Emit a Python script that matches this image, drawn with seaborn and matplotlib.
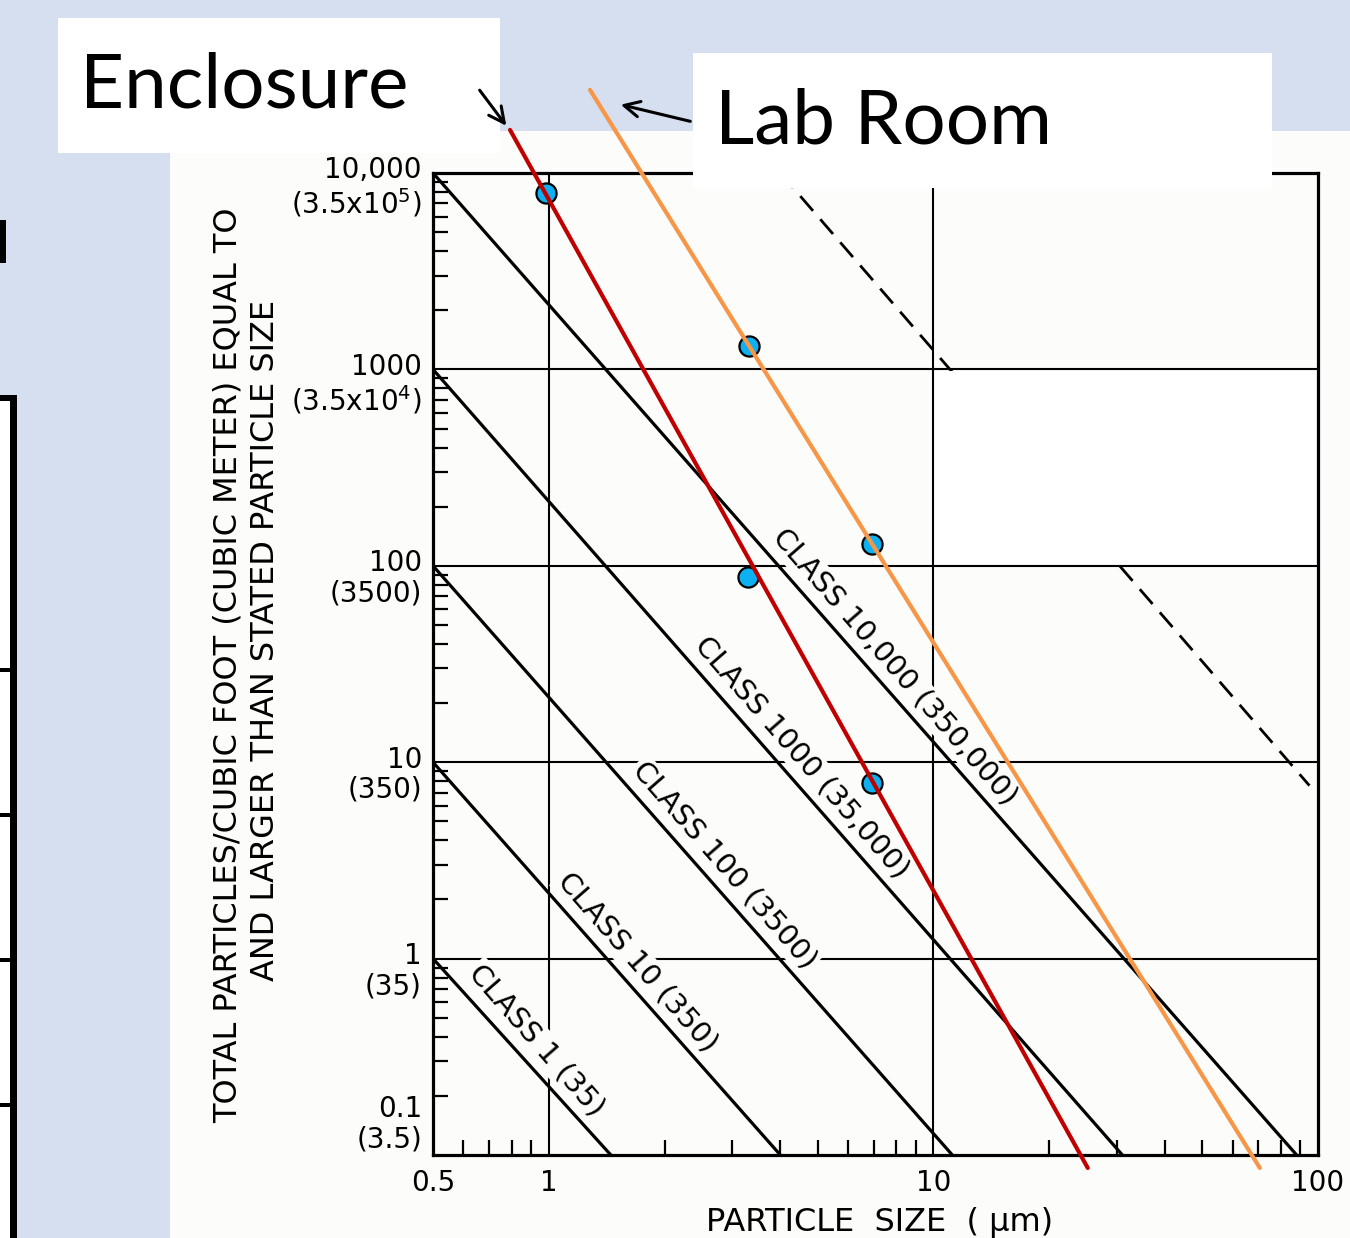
import numpy as np
import pandas as pd
import matplotlib
matplotlib.use("Agg")
import matplotlib.pyplot as plt
from matplotlib.patches import Rectangle, FancyArrowPatch
from matplotlib.ticker import LogLocator, NullFormatter
import seaborn as sns

# ---------------- data ----------------
class_names = ["CLASS 1 (35)", "CLASS 10 (350)", "CLASS 100 (3500)",
               "CLASS 1000 (35,000)", "CLASS 10,000 (350,000)"]
class_start_size = [0.5, 0.5, 0.5, 0.5, 0.5]
class_start_count = [1, 10, 100, 1000, 10000]
class_end_size = [1.45, 4.0, 11.2, 31.0, 88.0]
class_end_count = [0.1, 0.1, 0.1, 0.1, 0.1]

class_label_size = [0.93, 1.70, 2.86, 4.55, 7.95]
class_label_count = [0.385, 0.96, 3.0, 10.6, 30.5]

dashed_size = [4.0, 95.0]
dashed_count = [10000, 7.6]

enclosure_size = [0.793, 25.2]
enclosure_count = [16570, 0.0859]
lab_size = [1.28, 70.6]
lab_count = [26500, 0.0859]

enclosure_pts_size = [0.984, 3.30, 6.92]
enclosure_pts_count = [7910, 87.7, 7.84]
lab_pts_size = [3.32, 6.92]
lab_pts_count = [1316, 129]

x_ticks = [0.5, 1, 10, 100]
x_tick_labels = ["0.5", "1", "10", "100"]
y_ticks = [10000, 1000, 100, 10, 1, 0.1]
y_tick_labels = ["10,000\n(3.5x10$^5$)", "1000\n(3.5x10$^4$)", "100\n(3500)",
                 "10\n(350)", "1\n(35)", "0.1\n(3.5)"]
grid_x = [1, 10]
grid_y = [1000, 100, 10, 1]

ylabel_lines = ["TOTAL PARTICLES/CUBIC FOOT (CUBIC METER) EQUAL TO",
                "AND LARGER THAN STATED PARTICLE SIZE"]
xlabel_text = "PARTICLE  SIZE  ( \u03bcm)"

# ---------------- style ----------------
sns.set_style("white")
plt.rcParams["font.family"] = ["DejaVu Sans"]
plt.rcParams["text.color"] = "black"
plt.rcParams["xtick.color"] = "black"
plt.rcParams["ytick.color"] = "black"
plt.rcParams["axes.labelcolor"] = "black"

BG = "#D5DFF0"
W, H = 1350, 1238
fig = plt.figure(figsize=(W / 100, H / 100), dpi=100)
fig.patch.set_facecolor(BG)


def fx(x):
    return x / W


def fy(y):
    return 1 - y / H


def rect_px(x0, y0, x1, y1, **kw):
    r = Rectangle((fx(x0), fy(y1)), (x1 - x0) / W, (y1 - y0) / H,
                  transform=fig.transFigure, **kw)
    fig.add_artist(r)
    return r


# scanned chart paper
rect_px(170, 131, 1350, 1238, fc="#FCFCFA", ec="none", zorder=-1)

# left slide table fragments
rect_px(0, 397, 10, 1238, fc="white", ec="none", zorder=1)
rect_px(10, 395, 17, 1238, fc="black", ec="none", zorder=2)
rect_px(0, 395, 17, 401, fc="black", ec="none", zorder=2)
for yy in [670, 815, 960, 1105]:
    rect_px(0, yy - 2, 12, yy + 2, fc="black", ec="none", zorder=2)
rect_px(0, 220, 6, 263, fc="black", ec="none", zorder=2)

# ---------------- axes ----------------
ax = fig.add_axes([433 / W, 1 - 1155 / H, 885 / W, 982 / H])
ax.patch.set_alpha(0)
ax.set_xscale("log")
ax.set_yscale("log")
ax.set_xlim(0.5, 100)
ax.set_ylim(0.1, 10000)

for g in grid_x:
    ax.axvline(g, color="black", lw=1.5, zorder=1)
for g in grid_y:
    ax.axhline(g, color="black", lw=1.5, zorder=1)

df_class = pd.DataFrame({
    "size": class_start_size + class_end_size,
    "count": class_start_count + class_end_count,
    "cls": class_names * 2,
})
sns.lineplot(data=df_class, x="size", y="count", hue="cls",
             palette={n: "black" for n in class_names}, legend=False,
             estimator=None, linewidth=2.3, ax=ax, zorder=4)

df_dash = pd.DataFrame({"size": dashed_size, "count": dashed_count})
sns.lineplot(data=df_dash, x="size", y="count", color="black", linewidth=2.0,
             dashes=False, estimator=None, ax=ax, zorder=4)
ax.lines[-1].set_dashes((7, 4))

for n, xs, ys in zip(class_names, class_label_size, class_label_count):
    ax.text(xs, ys, n, rotation=-48.9, rotation_mode="anchor",
            ha="center", va="center", fontsize=21, zorder=3, color="black",
            bbox=dict(fc="#FCFCFA", ec="none", pad=1.5))

df_enc = pd.DataFrame({"size": enclosure_size, "count": enclosure_count})
sns.lineplot(data=df_enc, x="size", y="count", color="#C00000", linewidth=3.0,
             estimator=None, ax=ax, zorder=6, clip_on=False)
df_lab = pd.DataFrame({"size": lab_size, "count": lab_count})
sns.lineplot(data=df_lab, x="size", y="count", color="#F79646", linewidth=3.0,
             estimator=None, ax=ax, zorder=6, clip_on=False)

df_pts = pd.DataFrame({"size": enclosure_pts_size + lab_pts_size,
                       "count": enclosure_pts_count + lab_pts_count})
sns.scatterplot(data=df_pts, x="size", y="count", s=210, color="#0DB0F0",
                edgecolor="black", linewidth=1.6, ax=ax, zorder=5, clip_on=False)

# ticks
ax.set_xticks(x_ticks)
ax.set_xticklabels(x_tick_labels)
ax.xaxis.set_minor_locator(LogLocator(base=10, subs=np.arange(2, 10)))
ax.yaxis.set_minor_locator(LogLocator(base=10, subs=np.arange(2, 10)))
ax.xaxis.set_minor_formatter(NullFormatter())
ax.yaxis.set_minor_formatter(NullFormatter())
ax.set_yticks(y_ticks)
ax.set_yticklabels([])
ax.tick_params(axis="both", which="major", length=0, labelsize=20, pad=10,
               colors="black")
ax.tick_params(axis="both", which="minor", direction="in", length=11,
               width=1.6, color="black", left=True, bottom=True,
               right=False, top=False)
ax.set_xlabel("")
ax.set_ylabel("")

for v, lab in zip(y_ticks[:-1], y_tick_labels[:-1]):
    ax.annotate(lab, xy=(0, v), xycoords=("axes fraction", "data"),
                xytext=(-8, 12), textcoords="offset points",
                ha="right", va="top", fontsize=20, linespacing=1.1,
                color="black")
ax.annotate(y_tick_labels[-1], xy=(0, y_ticks[-1]),
            xycoords=("axes fraction", "data"), xytext=(-8, 1),
            textcoords="offset points", ha="right", va="bottom",
            fontsize=20, linespacing=1.1, color="black")

for s in ax.spines.values():
    s.set_visible(True)
    s.set_color("black")
    s.set_linewidth(2.3)

# axis titles (scanned style)
fig.text(fx(228), fy(665), ylabel_lines[0], rotation=90, ha="center",
         va="center", fontsize=23, color="black")
fig.text(fx(265), fy(640), ylabel_lines[1], rotation=90, ha="center",
         va="center", fontsize=23, color="black")
fig.text(fx(880), fy(1222), xlabel_text, ha="center", va="center",
         fontsize=23, color="black")

# ---------------- slide overlays ----------------
rect_px(58, 18, 500, 153, fc="white", ec="none", zorder=7)
rect_px(693, 53, 1272, 188, fc="white", ec="none", zorder=7)
rect_px(935, 371, 1316, 564, fc="white", ec="none", zorder=7)

fig.text(fx(80), fy(107), "Enclosure", fontsize=55, family="Lato",
         ha="left", va="baseline", zorder=8, color="black")
fig.text(fx(715), fy(143), "Lab Room", fontsize=55, family="Lato",
         ha="left", va="baseline", zorder=8, color="black")

for (x0, y0), (x1, y1) in [((478, 88), (508, 128)), ((693, 122), (618, 104))]:
    arr = FancyArrowPatch((fx(x0), fy(y0)), (fx(x1), fy(y1)),
                          transform=fig.transFigure, arrowstyle="->",
                          mutation_scale=28, lw=2.2, color="black", zorder=8)
    fig.add_artist(arr)

fig.savefig("out.png", dpi=100, facecolor=fig.get_facecolor())
